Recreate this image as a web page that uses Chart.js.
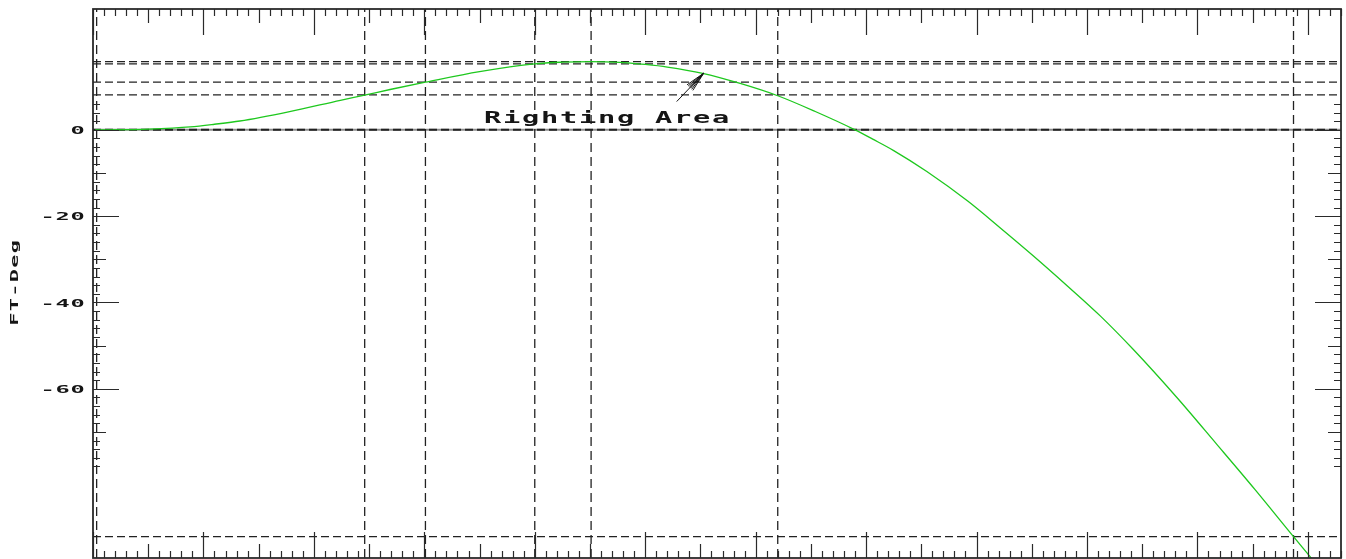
<!DOCTYPE html>
<html>
<head>
<meta charset="utf-8">
<script src="https://cdn.jsdelivr.net/npm/chart.js@4.4.1/dist/chart.umd.min.js"></script>
<style>
  html, body { margin: 0; padding: 0; background: #ffffff; }
  #wrap { width: 1346px; height: 559px; }
  canvas { display: block; }
</style>
</head>
<body>
<div id="wrap"><canvas id="chart" width="1346" height="559"></canvas></div>
<script>
// Righting area (ft-deg) versus heel angle (deg)
const angleDeg = [0.2, 3, 5, 8.8, 11, 13.3, 17.8, 22.4, 24.6, 26.9, 30.1, 35, 40, 42.5, 45, 47.7, 50, 52, 55.2,
                  58.6, 62, 65.4, 69.0, 70.6, 72.5, 75.5, 79.2, 82.1, 85.1, 88.2, 91.2, 94.2, 98.1, 101.7, 105.2,
                  108.7, 110.2, 111];
const areaFtDeg = [0, 0.05, 0.18, 0.7, 1.3, 2.05, 4.24, 6.85, 8.05, 9.35, 11.05, 13.5, 15.3, 15.68, 15.83, 15.65, 15.15, 14.55, 13.1,
                   10.75, 7.9, 4.25, 0, -2.15, -4.8, -9.65, -16.5, -22.6, -29.1, -36.1, -43.1, -50.9, -61.9, -72.7, -83.3,
                   -94.25, -98.9, -101.4];

// Reference angles and area levels marked with dashed guides
const guideAngles = [0.33, 24.6, 30.1, 40.0, 45.1, 62.0, 108.7];
const guideAreas = [15.83, 15.30, 11.05, 8.1, -94.25];

// Axis extents and labelled values
const xRange = [0, 113];
const yRange = [-99.2, 28.0];
const yTickLabels = [0, -20, -40, -60];
const yTickSpan = [-78, 6];
const yAxisTitle = 'FT-Deg';
const noteText = 'Righting Area';
const noteAt = [46.5, 2.5];          // text centre (angle, area)
const arrowFrom = [52.85, 6.56];
const arrowTo = [55.3, 13.14];

const INK = '#151515';

const datasets = [];
datasets.push({
  data: angleDeg.map((a, i) => ({ x: a, y: areaFtDeg[i] })),
  borderColor: '#1ec81e',
  borderWidth: 1.3,
  pointRadius: 0,
  cubicInterpolationMode: 'monotone',
  fill: false
});
guideAreas.forEach(v => datasets.push({
  data: [{ x: xRange[0], y: v }, { x: xRange[1], y: v }],
  borderColor: '#222', borderWidth: 1.3, borderDash: [8, 4], pointRadius: 0, fill: false
}));
guideAngles.forEach(v => datasets.push({
  data: [{ x: v, y: yRange[0] }, { x: v, y: yRange[1] }],
  borderColor: '#222', borderWidth: 1.3, borderDash: [9, 5], pointRadius: 0, fill: false
}));
// zero line: grey base with a dark dash over it
datasets.push({
  data: [{ x: xRange[0], y: 0 }, { x: xRange[1], y: 0 }],
  borderColor: '#222', borderWidth: 2, borderDash: [8, 4], pointRadius: 0, fill: false
});
datasets.push({
  data: [{ x: xRange[0], y: 0 }, { x: xRange[1], y: 0 }],
  borderColor: '#8c8c8c', borderWidth: 2, pointRadius: 0, fill: false
});

// Fixed-pitch, horizontally widened lettering (plotter style)
function plotterText(ctx, text, x, y, o) {
  ctx.save();
  ctx.translate(x, y);
  if (o.rotate) ctx.rotate(o.rotate);
  ctx.font = 'bold ' + o.size + 'px ' + o.family;
  ctx.fillStyle = INK;
  ctx.textBaseline = 'alphabetic';
  ctx.textAlign = 'center';
  const n = text.length;
  let start;
  if (o.align === 'right') start = -(n - 0.5) * o.pitch;
  else if (o.align === 'left') start = 0.5 * o.pitch;
  else start = -((n - 1) / 2) * o.pitch;
  for (let i = 0; i < n; i++) {
    ctx.save();
    ctx.translate(start + i * o.pitch, 0);
    ctx.scale(o.sx, 1);
    ctx.fillText(text[i], 0, 0);
    ctx.restore();
  }
  ctx.restore();
}

const MONO = '"DejaVu Sans Mono", "Liberation Mono", monospace';

const framePlugin = {
  id: 'frameTicks',
  afterDatasetsDraw(chart) {
    const { ctx, chartArea: a, scales: { x, y } } = chart;
    ctx.save();
    // inward ticks on all four sides
    ctx.strokeStyle = '#2a2a2a';
    ctx.lineWidth = 1.2;
    ctx.beginPath();
    for (let v = xRange[0]; v <= xRange[1]; v++) {
      const len = v % 10 === 0 ? 26 : (v % 5 === 0 ? 14 : 7);
      const px = Math.round(x.getPixelForValue(v)) + 0.5;
      ctx.moveTo(px, a.top); ctx.lineTo(px, a.top + len);
      ctx.moveTo(px, a.bottom); ctx.lineTo(px, a.bottom - len);
    }
    for (let v = yTickSpan[0]; v <= yTickSpan[1]; v += 2) {
      const len = v % 20 === 0 ? 26 : (v % 10 === 0 ? 13 : 7);
      const py = Math.round(y.getPixelForValue(v)) + 0.5;
      ctx.moveTo(a.left, py); ctx.lineTo(a.left + len, py);
      ctx.moveTo(a.right, py); ctx.lineTo(a.right - len, py);
    }
    ctx.stroke();
    // frame
    ctx.strokeStyle = '#2a2a2a';
    ctx.lineWidth = 1.8;
    ctx.strokeRect(a.left, a.top, a.right - a.left, a.bottom - a.top);

    // arrow pointing at the curve
    const sx = x.getPixelForValue(arrowFrom[0]), sy = y.getPixelForValue(arrowFrom[1]);
    const tx = x.getPixelForValue(arrowTo[0]), ty = y.getPixelForValue(arrowTo[1]);
    const L = Math.hypot(tx - sx, ty - sy);
    const ux = (tx - sx) / L, uy = (ty - sy) / L;
    const nx = -uy, ny = ux;
    ctx.strokeStyle = INK;
    ctx.lineWidth = 1;
    ctx.beginPath();
    ctx.moveTo(sx, sy); ctx.lineTo(tx, ty);
    const bx = tx - 20 * ux, by = ty - 20 * uy;
    for (let k = -4; k <= 4.01; k += 1.6) {
      ctx.moveTo(tx, ty); ctx.lineTo(bx + k * nx, by + k * ny);
    }
    ctx.stroke();
    ctx.restore();

    // labels
    yTickLabels.forEach(v => {
      plotterText(ctx, String(v), 85, y.getPixelForValue(v) + 4.2,
        { size: 11, sx: 2.15, pitch: 15, align: 'right', family: MONO });
    });
    plotterText(ctx, yAxisTitle, 18.3, 283,
      { size: 11, sx: 2.0, pitch: 14.5, align: 'center', rotate: -Math.PI / 2, family: MONO });
    plotterText(ctx, noteText, x.getPixelForValue(noteAt[0]), y.getPixelForValue(noteAt[1]) + 4,
      { size: 15.5, sx: 1.85, pitch: 19, align: 'center', family: MONO });
  }
};

new Chart(document.getElementById('chart'), {
  type: 'line',
  data: { datasets },
  options: {
    responsive: false,
    animation: false,
    layout: { padding: { left: 93, right: 5, top: 9, bottom: 1 } },
    scales: {
      x: { type: 'linear', min: xRange[0], max: xRange[1], display: false },
      y: { type: 'linear', min: yRange[0], max: yRange[1], display: false }
    },
    plugins: { legend: { display: false }, tooltip: { enabled: false } }
  },
  plugins: [framePlugin]
});
</script>
</body>
</html>
